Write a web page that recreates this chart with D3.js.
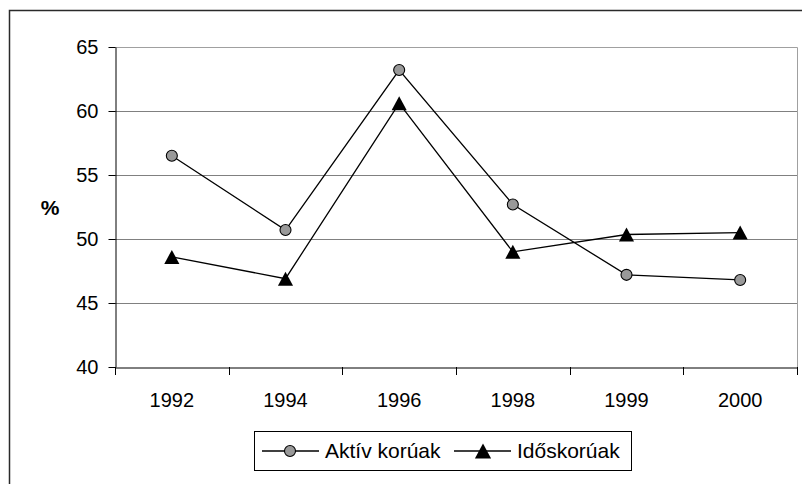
<!DOCTYPE html>
<html>
<head>
<meta charset="utf-8">
<script src="https://cdn.jsdelivr.net/npm/d3@7"></script>
<style>
  html, body { margin: 0; padding: 0; background: #fff; }
  svg { display: block; font-family: "Liberation Sans", Arial, sans-serif; }
</style>
</head>
<body>
<svg id="chart" width="802" height="484"></svg>
<script>
const categories = ["1992", "1994", "1996", "1998", "1999", "2000"];
const aktivKoruak = [56.5, 50.7, 63.2, 52.7, 47.2, 46.8];
const idoskoruak = [48.6, 46.9, 60.6, 49.0, 50.35, 50.5];
const yTicks = [40, 45, 50, 55, 60, 65];
const seriesNames = ["Aktív korúak", "Időskorúak"];
const yLabel = "%";

const svg = d3.select("#chart");
const W = 802, H = 484;
const plot = { left: 115, right: 797, top: 47, bottom: 367 };

const x = d3.scaleBand().domain(categories).range([plot.left, plot.right]);
const y = d3.scaleLinear().domain([40, 65]).range([plot.bottom, plot.top]);

// outer chart border (cropped at right/bottom)
svg.append("rect")
  .attr("x", 9.5).attr("y", 10.5).attr("width", 900).attr("height", 700)
  .attr("fill", "none").attr("stroke", "#2a2a2a").attr("stroke-width", 1.5);

// gridlines
svg.append("g").selectAll("line")
  .data(yTicks.filter(t => t > 40 && t < 65))
  .join("line")
  .attr("x1", plot.left).attr("x2", plot.right)
  .attr("y1", d => Math.round(y(d)) + 0.5).attr("y2", d => Math.round(y(d)) + 0.5)
  .attr("stroke", "#808080").attr("stroke-width", 1);

// plot area border (top & right gray)
svg.append("path")
  .attr("d", `M${plot.left},${plot.top + 0.5}H${plot.right + 0.5}V${plot.bottom}`)
  .attr("fill", "none").attr("stroke", "#a0a0a0").attr("stroke-width", 1);

// y axis
const yAxis = svg.append("g")
  .attr("transform", `translate(${plot.left + 0.5},0)`)
  .call(d3.axisLeft(y).tickValues(yTicks).tickSize(7).tickPadding(10).tickSizeOuter(0));
yAxis.select(".domain").attr("stroke", "#000");
yAxis.selectAll(".tick line").attr("stroke", "#000");
yAxis.selectAll(".tick text")
  .attr("font-size", 20).attr("fill", "#000")
  .attr("font-family", "'Liberation Sans', Arial, sans-serif");

// x axis (labels centered, ticks at boundaries)
const xAxis = svg.append("g")
  .attr("transform", `translate(0,${plot.bottom + 0.5})`)
  .call(d3.axisBottom(x).tickSize(0).tickSizeOuter(0));
xAxis.select(".domain").attr("stroke", "#000");
xAxis.selectAll(".tick text")
  .attr("font-size", 20).attr("fill", "#000")
  .attr("y", 39).attr("dy", 0)
  .attr("font-family", "'Liberation Sans', Arial, sans-serif");
const boundaries = categories.map(c => x(c)).concat([x.range()[1]]);
svg.append("g").selectAll("line")
  .data(boundaries)
  .join("line")
  .attr("x1", d => Math.round(d) + 0.5).attr("x2", d => Math.round(d) + 0.5)
  .attr("y1", plot.bottom).attr("y2", plot.bottom + 8)
  .attr("stroke", "#000");

// y label
svg.append("text")
  .attr("x", 50).attr("y", 215)
  .attr("text-anchor", "middle")
  .attr("font-size", 21).attr("font-weight", "bold")
  .text(yLabel);

// marker shapes
const triangleType = {
  draw(context, size) {
    const h = Math.sqrt(size), w = h * 1.08;
    context.moveTo(0, -h / 2);
    context.lineTo(w / 2, h / 2);
    context.lineTo(-w / 2, h / 2);
    context.closePath();
  }
};

const cx = c => x(c) + x.bandwidth() / 2;
const line = d3.line().x(d => cx(d.c)).y(d => y(d.v));

const dataA = categories.map((c, i) => ({ c, v: aktivKoruak[i] }));
const dataB = categories.map((c, i) => ({ c, v: idoskoruak[i] }));

svg.append("path").datum(dataA).attr("d", line)
  .attr("fill", "none").attr("stroke", "#000").attr("stroke-width", 1.3);
svg.append("path").datum(dataB).attr("d", line)
  .attr("fill", "none").attr("stroke", "#000").attr("stroke-width", 1.3);

svg.append("g").selectAll("circle").data(dataA).join("circle")
  .attr("cx", d => cx(d.c)).attr("cy", d => y(d.v)).attr("r", 5.5)
  .attr("fill", "#999999").attr("stroke", "#000").attr("stroke-width", 1.1);

svg.append("g").selectAll("path").data(dataB).join("path")
  .attr("transform", d => `translate(${cx(d.c)},${y(d.v)})`)
  .attr("d", d3.symbol(triangleType, 196))
  .attr("fill", "#000");

// legend
const lg = svg.append("g");
lg.append("rect")
  .attr("x", 254.5).attr("y", 431.5).attr("width", 377).attr("height", 39)
  .attr("fill", "#fff").attr("stroke", "#000").attr("stroke-width", 1);
const legendItems = [
  { name: seriesNames[0], x0: 262, type: "circle" },
  { name: seriesNames[1], x0: 454, type: "triangle" }
];
legendItems.forEach(it => {
  const g = lg.append("g");
  g.append("line").attr("x1", it.x0).attr("x2", it.x0 + 57)
    .attr("y1", 451).attr("y2", 451).attr("stroke", "#000").attr("stroke-width", 1.3);
  if (it.type === "circle") {
    g.append("circle").attr("cx", it.x0 + 28).attr("cy", 451).attr("r", 5.5)
      .attr("fill", "#999999").attr("stroke", "#000").attr("stroke-width", 1.1);
  } else {
    g.append("path").attr("transform", `translate(${it.x0 + 29},451)`)
      .attr("d", d3.symbol(triangleType, 225)).attr("fill", "#000");
  }
  g.append("text").attr("x", it.x0 + 63).attr("y", 458)
    .attr("font-size", 21).attr("fill", "#000").text(it.name);
});
</script>
</body>
</html>
